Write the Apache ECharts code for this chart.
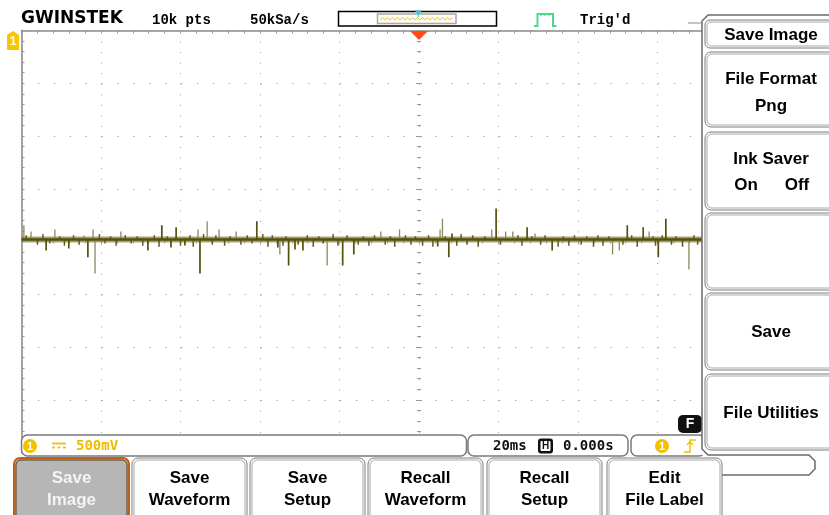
<!DOCTYPE html>
<html><head><meta charset="utf-8">
<script src="https://cdn.jsdelivr.net/npm/echarts@6/dist/echarts.min.js"></script>
<style>html,body{margin:0;padding:0;background:#fff;overflow:hidden}#c{width:829px;height:515px}</style>
</head><body><div id="c"></div>
<script>
// ---------------- data ----------------
const timeRangeMs = [-100, 100];   // 10 div x 20 ms
const voltRange = [-2, 2];         // 8 div x 500 mV
const timePerDiv = 20;
const voltPerDiv = 0.5;
const baselineV = 0.02;
// spikes (time ms, value V, tone d=dark l=light)
const spikeTimes  = [-99.4,-97.6,-93.8,-91.6,-88.1,-84.3,-83.3,-82.0,-81.5,-75.0,-68.2,-64.7,-62.4,-61.1,-58.9,-55.6,-55.1,-53.3,-50.3,-46.0,-40.8,-35.5,-35.0,-32.8,-31.2,-29.2,-23.1,-19.2,-16.4,-9.6,-4.9,4.7,5.3,5.9,7.5,8.3,18.3,19.4,21.8,23.6,27.2,29.2,33.5,48.7,50.4,52.4,56.4,57.9,60.2,62.1,67.9];
const spikeValues = [0.154,0.095,-0.085,0.114,-0.066,0.057,-0.149,0.114,-0.303,0.095,-0.085,0.154,-0.057,0.135,-0.038,0.114,-0.303,0.192,0.114,0.095,0.192,-0.057,-0.123,-0.227,-0.076,-0.085,-0.227,-0.227,-0.123,0.095,0.114,-0.047,0.114,0.215,-0.149,0.076,0.114,0.3125,0.095,0.095,0.135,0.076,-0.085,-0.123,-0.085,0.154,0.135,0.095,-0.149,0.215,-0.265];
const spikeTones  = ['l','l','d','l','d','l','d','l','l','l','d','d','d','d','d','l','d','l','l','l','d','d','l','d','d','d','l','d','d','l','l','d','l','l','d','d','l','d','l','l','d','l','d','l','l','d','d','l','d','d','l'];
// small noise ticks around the baseline
const noiseTimes  = [-98.8,-96.0,-94.6,-92.9,-90.4,-89.2,-86.9,-85.5,-80.4,-79.0,-77.6,-76.2,-73.9,-72.4,-70.9,-69.5,-66.6,-65.4,-63.3,-60.0,-57.6,-56.8,-54.2,-52.0,-51.1,-48.9,-47.5,-44.8,-43.2,-42.0,-39.3,-38.0,-36.9,-34.2,-33.5,-30.4,-28.1,-26.6,-25.2,-24.1,-21.6,-20.4,-18.1,-15.3,-14.0,-12.6,-11.2,-8.5,-7.2,-6.1,-3.4,-2.0,-0.9,0.9,2.4,3.5,6.6,9.5,10.6,12.1,13.5,14.9,16.6,20.5,24.9,25.9,28.4,30.6,31.7,35.0,36.3,37.7,39.1,40.8,42.2,43.9,45.0,46.3,47.8,51.3,53.5,54.9,58.9,59.5,61.2,63.5,64.7,66.3,69.2,70.1];
const noiseValues = [0.06,-0.03,0.07,-0.02,0.05,-0.04,0.06,-0.03,0.07,-0.02,0.05,-0.04,0.06,-0.02,0.05,-0.04,0.06,-0.05,0.05,-0.04,0.06,-0.05,0.07,-0.03,0.06,-0.04,0.05,-0.03,0.06,-0.02,0.07,-0.05,0.06,-0.04,0.05,-0.03,0.06,-0.05,0.05,-0.02,0.07,-0.04,0.06,-0.03,0.05,-0.04,0.06,-0.03,0.05,-0.05,0.06,-0.03,0.05,-0.04,0.06,-0.05,0.05,-0.04,0.07,-0.03,0.06,-0.05,0.05,-0.03,0.06,-0.04,0.05,-0.03,0.06,-0.05,0.05,-0.04,0.06,-0.03,0.05,-0.05,0.06,-0.04,0.05,-0.03,0.06,-0.05,0.05,-0.04,0.06,-0.03,0.05,-0.05,0.06,-0.03];
// texts
const logoText = 'GWINSTEK';
const topLabels = ['10k pts', '50kSa/s', "Trig'd"];
const statusLabels = ['500mV', '20ms', '0.000s'];
const menuHeader = 'Save Image';
const menuItems = [['File Format','Png'], ['Ink Saver',''], [], ['Save'], ['File Utilities']];
const inkSaverOptions = ['On', 'Off'];
const softKeys = [['Save','Image'],['Save','Waveform'],['Save','Setup'],['Recall','Waveform'],['Recall','Setup'],['Edit','File Label']];

// ---------------- chart ----------------
const chart = echarts.init(document.getElementById('c'), null, {renderer:'canvas'});
const DARK = '#55510a', LIGHT = '#8c895a', MID = '#5f5b1e';
const tickGray = '#9a9a9a';

function spikeSeries(filterFn, color, width, times, values){
  const data = [];
  times.forEach((t,i)=>{ if(filterFn(i)) data.push([t, values[i]]); });
  return {type:'custom', xAxisIndex:0, yAxisIndex:0, z:5, silent:true, clip:true,
    encode:{x:0,y:1}, data,
    renderItem(params, api){
      const p0 = api.coord([api.value(0), baselineV]);
      const p1 = api.coord([api.value(0), api.value(1)]);
      return {type:'line', shape:{x1:p0[0],y1:p0[1],x2:p1[0],y2:p1[1]}, style:{stroke:color, lineWidth:width}};
    }};
}

function centerAxisX(pos){
  return {type:'value', min:timeRangeMs[0], max:timeRangeMs[1], interval:timePerDiv, position:pos, offset:-211,
    axisLine:{show:false,onZero:false}, axisLabel:{show:false}, splitLine:{show:false},
    axisTick:{show:true,inside:true,length:3,lineStyle:{color:tickGray}},
    minorTick:{show:true,splitNumber:5,length:2,lineStyle:{color:tickGray}}};
}
function centerAxisY(pos){
  return {type:'value', min:voltRange[0], max:voltRange[1], interval:voltPerDiv, position:pos, offset:-397.5,
    axisLine:{show:false,onZero:false}, axisLabel:{show:false}, splitLine:{show:false},
    axisTick:{show:true,inside:true,length:3,lineStyle:{color:tickGray}},
    minorTick:{show:true,splitNumber:5,length:2,lineStyle:{color:tickGray}}};
}

// ---------------- overlay graphics ----------------
const G = [];
let zc = 100;
function add(el){ el.z = zc++; G.push(el); }
function rect(x,y,w,h,style,r){ add({type:'rect',shape:{x,y,width:w,height:h,r:r||0},style}); }
function text(x,y,s,font,fill,align){ add({type:'text',x,y,style:{text:s,font,fill,align:align||'center',verticalAlign:'middle'}}); }
function line(x1,y1,x2,y2,stroke,lw){ add({type:'line',shape:{x1,y1,x2,y2},style:{stroke,lineWidth:lw||1}}); }
function poly(points,style,closed){ add({type:closed?'polygon':'polyline',shape:{points},style}); }
function bevel(x,y,w,h,r,fill,outer,inner){
  rect(x,y,w,h,{fill:fill||'#fff',stroke:outer||'#7d7d7d',lineWidth:1},r);
  rect(x+2,y+2,w-4,h-4,{fill:'none',stroke:inner||'#c6c6c6',lineWidth:1.5},Math.max(r-1,0));
}
const SANS = '"Liberation Sans", Arial, sans-serif';
const MONO = '"Liberation Mono", monospace';
const DMONO = '"DejaVu Sans Mono", monospace';
const YEL = '#f3c000';

// top bar
text(21, 19, logoText, 'bold 17px "DejaVu Sans"', '#000', 'left');
text(152, 20, topLabels[0], 'bold 14px '+MONO, '#000', 'left');
text(250, 20, topLabels[1], 'bold 14px '+MONO, '#000', 'left');
rect(338.5, 11.5, 158, 14.5, {fill:'#fff', stroke:'#000', lineWidth:1.5});
rect(377.5, 14, 78.5, 9.5, {fill:'#fffdf0', stroke:'#a8a8a8', lineWidth:1.5});
(function(){ const pts=[]; for(let x=380;x<=454;x+=2.5){ pts.push([x, 18.8 + ((Math.round((x-380)/2.5)%2)?-1.3:1.3)]); } poly(pts,{fill:'none',stroke:'#f0c040',lineWidth:1}); })();
poly([[414.5,10.5],[422,10.5],[418.3,14.5]],{fill:'#22c3e6'},true);
line(418.3,14,418.3,17,'#22c3e6',1);
poly([[534,26],[537.5,26],[537.5,14],[553,14],[553,26],[556.5,26]],{fill:'none',stroke:'#4cd98a',lineWidth:2});
line(541,14,541,16,'#4cd98a',1.2); line(545,14,545,16,'#4cd98a',1.2); line(549,14,549,16,'#4cd98a',1.2);
text(580, 20, topLabels[2], 'bold 14px '+MONO, '#000', 'left');
// trigger position marker
poly([[410,31],[428,31],[419,40]],{fill:'#ff4a12'},true);
// channel 1 marker
poly([[7,35],[13,31],[19,35],[19,50],[7,50]],{fill:'#f7c600'},true);
text(13, 42, '1', 'bold 12px '+SANS, '#fff');

// status bar
rect(21.5, 435, 445, 21, {fill:'#fff', stroke:'#7a7a7a', lineWidth:1.5}, 6);
add({type:'circle',shape:{cx:30,cy:446,r:7},style:{fill:YEL}});
text(30, 446.5, '1', 'bold 11px '+SANS, '#fff');
line(52,443.5,66,443.5,YEL,1.8);
line(52,447.5,55,447.5,YEL,1.8); line(57.5,447.5,60.5,447.5,YEL,1.8); line(63,447.5,66,447.5,YEL,1.8);
text(76, 446, statusLabels[0], 'bold 14px '+DMONO, '#eebb00', 'left');
rect(468, 435, 160, 21, {fill:'#fff', stroke:'#7a7a7a', lineWidth:1.5}, 6);
text(493, 446, statusLabels[1], 'bold 14px '+DMONO, '#111', 'left');
rect(538, 438.5, 15, 15, {fill:'#111'}, 3);
rect(540.5, 441, 10, 10, {fill:'#fff'}, 1);
text(545.5, 446.5, 'H', 'bold 10px '+SANS, '#111');
text(563, 446, statusLabels[2], 'bold 14px '+DMONO, '#111', 'left');
rect(631, 435, 74, 21, {fill:'#fff', stroke:'#7a7a7a', lineWidth:1.5}, 6);
add({type:'circle',shape:{cx:662,cy:446,r:7},style:{fill:YEL}});
text(662, 446.5, '1', 'bold 11px '+SANS, '#fff');
poly([[684,452],[690,452],[690,440],[696,440]],{fill:'none',stroke:YEL,lineWidth:1.5});
poly([[687,445],[690,441.5],[693,445]],{fill:'none',stroke:YEL,lineWidth:1.2});
// F icon
rect(678, 415, 24, 18, {fill:'#111'}, 5);
text(690, 424.5, 'F', 'bold 14px '+SANS, '#fff');

// right menu
rect(702, 15, 140, 440, {fill:'#fff'}, 0);
poly([[840,15],[708,15],[702,21],[702,449],[708,455],[809,455],[815,461],[815,469],[809,475],[720,475]],{fill:'none',stroke:'#6a6a6a',lineWidth:1.5});
line(688,23,702,23,'#8a8a8a',1);
bevel(705, 20, 135, 28, 5);
text(771, 35, menuHeader, 'bold 17px '+SANS, '#000');
const boxTops = [52, 132, 213, 293, 374];
const boxBottoms = [127, 210, 290, 370, 450];
boxTops.forEach((t,i)=>{
  bevel(705, t, 135, boxBottoms[i]-t, 6);
  const items = menuItems[i];
  const cy = (t + boxBottoms[i]) / 2;
  if (items.length === 1) text(771, cy+1, items[0], 'bold 17px '+SANS, '#000');
  else if (items.length === 2) {
    text(771, t+27, items[0], 'bold 17px '+SANS, '#000');
    if (items[1]) text(771, t+54, items[1], 'bold 17px '+SANS, '#000');
  }
});
text(746, 185, inkSaverOptions[0], 'bold 17px '+SANS, '#000');
text(797, 185, inkSaverOptions[1], 'bold 17px '+SANS, '#000');

// soft keys
const keyX = [14, 132, 250, 368, 487, 607];
const keyW = 115;
softKeys.forEach((k,i)=>{
  const x = keyX[i];
  if (i === 0) {
    rect(x, 458, keyW, 70, {fill:'#b6b6b6', stroke:'#b8631a', lineWidth:2}, [6,6,0,0]);
    rect(x+2, 460, keyW-4, 70, {fill:'none', stroke:'#5a3a1a', lineWidth:1}, [5,5,0,0]);
  } else {
    bevel(x, 458, keyW, 70, 6);
  }
  const col = i === 0 ? '#f4f4f4' : '#000';
  text(x + keyW/2, 478, k[0], 'bold 17px '+SANS, col);
  text(x + keyW/2, 500, k[1], 'bold 17px '+SANS, col);
});

const option = {
  animation:false,
  backgroundColor:'#ffffff',
  grid:{left:21.5, top:30.5, width:795, height:422, containLabel:false, outerBoundsMode:'none'},
  xAxis:[
    {type:'value', min:timeRangeMs[0], max:timeRangeMs[1], interval:timePerDiv, position:'top',
     axisLine:{show:true,onZero:false,lineStyle:{color:'#8a8a8a',width:1.5}},
     axisTick:{show:true,inside:true,length:3,lineStyle:{color:tickGray}},
     minorTick:{show:true,splitNumber:5,length:3,lineStyle:{color:tickGray}},
     axisLabel:{show:false},
     splitLine:{show:true,lineStyle:{color:'#9c9c9c',width:1,type:[1,9.55],dashOffset:-0.5}}},
    centerAxisX('top'),
    centerAxisX('bottom')
  ],
  yAxis:[
    {type:'value', min:voltRange[0], max:voltRange[1], interval:voltPerDiv, position:'left',
     axisLine:{show:true,onZero:false,lineStyle:{color:'#a2a2a2',width:2}},
     axisTick:{show:true,inside:true,length:3,lineStyle:{color:tickGray}},
     minorTick:{show:true,splitNumber:5,length:3,lineStyle:{color:tickGray}},
     axisLabel:{show:false},
     splitLine:{show:true,lineStyle:{color:'#9c9c9c',width:1,type:[1.2,14.7],dashOffset:-0.6}}},
    centerAxisY('left'),
    centerAxisY('right')
  ],
  series:[
    {type:'line', xAxisIndex:0, yAxisIndex:0, silent:true, symbol:'none', z:3,
     data:[[timeRangeMs[0], baselineV],[timeRangeMs[1], baselineV]],
     lineStyle:{color:'#8f8c58', width:6, opacity:0.8}},
    spikeSeries(i=>true, MID, 1.5, noiseTimes, noiseValues),
    spikeSeries(i=>spikeTones[i]==='l', LIGHT, 1.3, spikeTimes, spikeValues),
    spikeSeries(i=>spikeTones[i]==='d', DARK, 1.7, spikeTimes, spikeValues),
    {type:'line', xAxisIndex:0, yAxisIndex:0, silent:true, symbol:'none', z:6,
     data:[[timeRangeMs[0], baselineV],[timeRangeMs[1], baselineV]],
     lineStyle:{color:DARK, width:2.5}}
  ],
  graphic:{elements:G}
};
chart.setOption(option);
</script>
</body></html>
